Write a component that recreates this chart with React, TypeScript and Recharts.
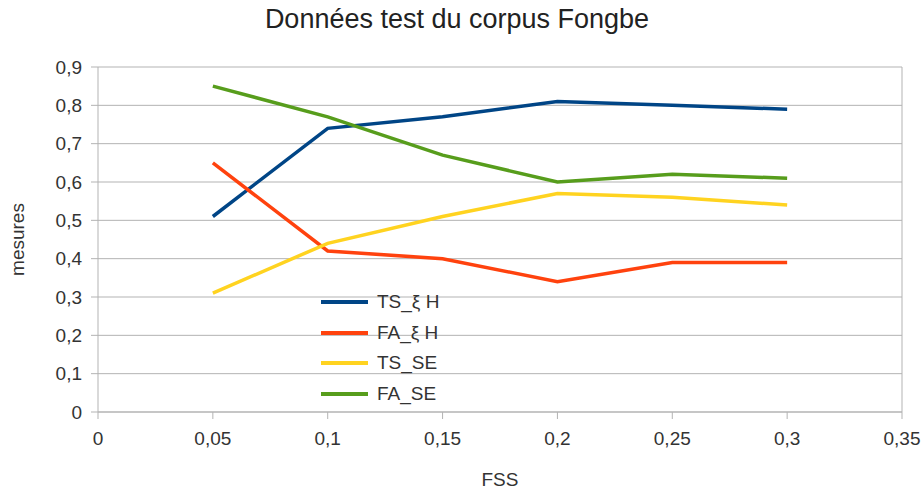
import React from 'react';
import { LineChart, Line, XAxis, YAxis, CartesianGrid, Legend, ReferenceLine } from 'recharts';

const fss = [0.05, 0.1, 0.15, 0.2, 0.25, 0.3];
const tsXiH = [0.51, 0.74, 0.77, 0.81, 0.8, 0.79];
const faXiH = [0.65, 0.42, 0.4, 0.34, 0.39, 0.39];
const tsSE = [0.31, 0.44, 0.51, 0.57, 0.56, 0.54];
const faSE = [0.85, 0.77, 0.67, 0.6, 0.62, 0.61];
const xTicks = [0, 0.05, 0.1, 0.15, 0.2, 0.25, 0.3, 0.35];
const yTicks = [0, 0.1, 0.2, 0.3, 0.4, 0.5, 0.6, 0.7, 0.8, 0.9];

const series = [
  { key: 'tsXiH', name: 'TS_ξ H', color: '#004586', values: tsXiH },
  { key: 'faXiH', name: 'FA_ξ H', color: '#ff420e', values: faXiH },
  { key: 'tsSE', name: 'TS_SE', color: '#ffd320', values: tsSE },
  { key: 'faSE', name: 'FA_SE', color: '#579d1c', values: faSE },
];

const data = fss.map((x, i) => {
  const row: any = { x };
  series.forEach((s) => (row[s.key] = s.values[i]));
  return row;
});

const fmt = (v: number) => String(v).replace('.', ',');
const font = '"Liberation Sans", Arial, sans-serif';

const LegendContent = () => (
  <div style={{ fontFamily: font, fontSize: 19, color: '#333' }}>
    {series.map((s) => (
      <div key={s.key} style={{ display: 'flex', alignItems: 'center', height: 30.5 }}>
        <div style={{ width: 47, height: 4, background: s.color, marginRight: 9 }} />
        <span>{s.name}</span>
      </div>
    ))}
  </div>
);

export default function App() {
  return (
    <div style={{ position: 'absolute', left: 0, top: 0, width: 922, height: 492, background: '#fff' }}>
      <div style={{ position: 'absolute', top: 4, left: 0, width: 914, textAlign: 'center', fontFamily: font, fontSize: 27, lineHeight: '30px', color: '#222' }}>
        Données test du corpus Fongbe
      </div>
      <LineChart width={922} height={492} data={data} margin={{ top: 67, right: 20, bottom: 0, left: 0 }}>
        <CartesianGrid horizontal={true} vertical={false} stroke="#b3b3b3" strokeWidth={1} />
        <XAxis
          dataKey="x"
          type="number"
          domain={[0, 0.35]}
          ticks={xTicks}
          tickFormatter={fmt}
          height={80}
          stroke="#b3b3b3"
          tickSize={7}
          tickMargin={13}
          tick={{ fill: '#333', fontSize: 19, fontFamily: font }}
          label={{ value: 'FSS', position: 'insideBottom', offset: 6, fill: '#333', fontSize: 19, fontFamily: font }}
          interval={0}
        />
        <YAxis
          type="number"
          domain={[0, 0.9]}
          ticks={yTicks}
          tickFormatter={fmt}
          width={98}
          stroke="#b3b3b3"
          tickSize={7}
          tickMargin={9}
          tick={{ fill: '#333', fontSize: 19, fontFamily: font }}
          label={{ value: 'mesures', angle: -90, position: 'insideLeft', offset: 17, fill: '#333', fontSize: 19, fontFamily: font, style: { textAnchor: 'middle' } }}
          interval={0}
        />
        <ReferenceLine x={0.35} stroke="#b3b3b3" />
        {series.map((s) => (
          <Line
            key={s.key}
            dataKey={s.key}
            name={s.name}
            stroke={s.color}
            strokeWidth={3.5}
            dot={false}
            activeDot={false}
            isAnimationActive={false}
          />
        ))}
        <Legend
          content={<LegendContent />}
          layout="vertical"
          align="center"
          verticalAlign="middle"
          wrapperStyle={{ position: 'absolute', left: 321, top: 287, width: 150 }}
        />
      </LineChart>
    </div>
  );
}
